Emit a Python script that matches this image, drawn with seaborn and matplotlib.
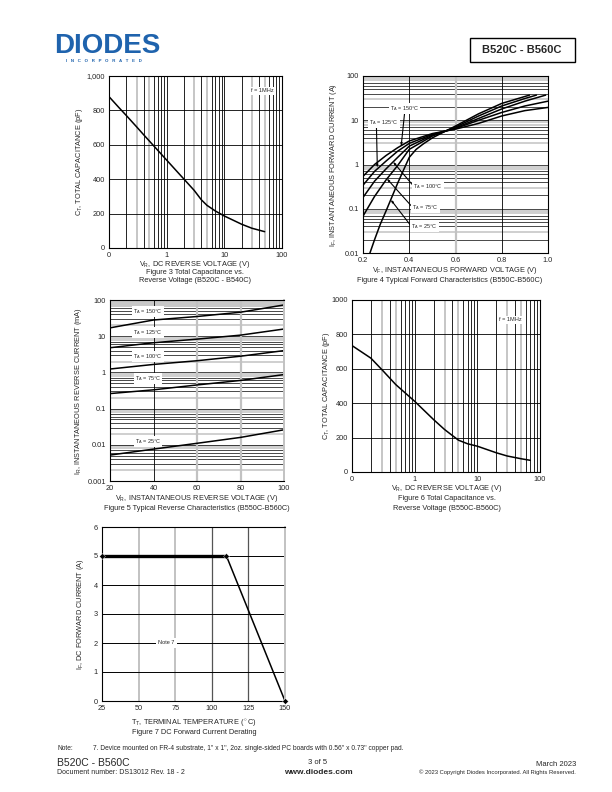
import matplotlib
matplotlib.use("Agg")
from matplotlib import pyplot as plt
from matplotlib.patches import Rectangle
from matplotlib.ticker import NullLocator
import seaborn as sns
import pandas as pd

sns.set_style("white")
plt.rcParams['font.family'] = ['Liberation Sans', 'DejaVu Sans']
plt.rcParams['mathtext.fontset'] = 'custom'
plt.rcParams['mathtext.rm'] = 'Liberation Sans'
plt.rcParams['mathtext.it'] = 'Liberation Sans:italic'
plt.rcParams['mathtext.bf'] = 'Liberation Sans:bold'

# Figure 3 - capacitance B520C-B540C
cap3_v = [0.1, 0.15, 0.2, 0.3, 0.4, 0.6, 1, 1.5, 2, 3, 4, 5, 7, 10, 15, 20, 30, 50]
cap3_c = [880, 815, 770, 705, 658, 593, 511, 446, 400, 335, 280, 248, 215, 186, 158, 138, 115, 95]

# Figure 4 - forward characteristics
fwd_v_150 = [0.20, 0.25, 0.30, 0.35, 0.40, 0.50, 0.60, 0.70, 0.80, 0.90, 1.00]
fwd_i_150 = [0.54, 1.0, 1.6, 2.4, 3.4, 5.0, 6.3, 8.5, 12.5, 16.5, 19.5]
fwd_v_125 = [0.20, 0.25, 0.30, 0.35, 0.40, 0.50, 0.60, 0.70, 0.80, 0.90, 1.00]
fwd_i_125 = [0.34, 0.7, 1.2, 2.0, 3.0, 4.8, 6.5, 10, 15, 21, 27]
fwd_v_100 = [0.20, 0.25, 0.30, 0.35, 0.40, 0.50, 0.60, 0.70, 0.80, 0.90, 0.99]
fwd_i_100 = [0.18, 0.42, 0.8, 1.45, 2.6, 4.6, 6.7, 11, 18, 27, 37]
fwd_v_75 = [0.20, 0.25, 0.30, 0.35, 0.40, 0.50, 0.60, 0.70, 0.80, 0.90, 0.95]
fwd_i_75 = [0.068, 0.19, 0.45, 0.95, 2.2, 4.4, 7.0, 12.5, 21, 31, 37]
fwd_v_25 = [0.23, 0.25, 0.275, 0.30, 0.32, 0.35, 0.38, 0.40, 0.43, 0.46, 0.50, 0.60, 0.70, 0.80, 0.92]
fwd_i_25 = [0.01, 0.02, 0.045, 0.09, 0.16, 0.38, 0.85, 1.45, 2.2, 2.9, 4.0, 7.4, 14, 24, 37]

# Figure 5 - reverse characteristics
rev_v = [20, 40, 60, 80, 100]
rev_i_150 = [17, 28, 35, 46, 73]
rev_i_125 = [4.8, 6.6, 8.3, 10.7, 15.8]
rev_i_100 = [1.24, 1.66, 2.1, 2.8, 4.0]
rev_i_75 = [0.26, 0.33, 0.45, 0.6, 0.87]
rev_i_25 = [0.0052, 0.0076, 0.011, 0.016, 0.026]

# Figure 6 - capacitance B550C-B560C
cap6_v = [0.1, 0.2, 0.3, 0.5, 1, 2, 3, 4, 5, 7, 10, 20, 30, 50, 70]
cap6_c = [735, 662, 595, 508, 411, 305, 247, 212, 185, 164, 150, 112, 93, 77, 68]

# Figure 7 - derating
der_t = [25, 110, 150]
der_i = [5, 5, 0]

W, H = 612, 792
fig = plt.figure(figsize=(6.12, 7.92), dpi=100)

FS = 5.3
GRAY = '#c2c2c2'


def box(l, t, r, b):
    return [l / W, 1 - b / H, (r - l) / W, (b - t) / H]


def txt(x, y, s, **kw):
    kw.setdefault('fontsize', FS)
    kw.setdefault('ha', 'center')
    kw.setdefault('va', 'center')
    fig.text(x / W, 1 - y / H, s, **kw)


def frame(ax):
    for sp in ax.spines.values():
        sp.set_color('black')
        sp.set_linewidth(0.8)
    ax.tick_params(length=0, labelsize=FS, pad=3)
    ax.xaxis.set_minor_locator(NullLocator())
    ax.yaxis.set_minor_locator(NullLocator())


def log_vgrid(ax, decades, grays):
    for d in decades:
        for m in range(1, 10):
            if d * m == decades[0]:
                continue
            g = m in grays
            ax.axvline(d * m, color=GRAY if g else 'black', lw=1.3 if g else 0.6, zorder=0)


def log_hgrid(ax, decades, grays):
    for d in decades:
        for m in range(1, 10):
            if d * m == decades[0]:
                continue
            g = m in grays
            ax.axhline(d * m, color=GRAY if g else 'black', lw=1.1 if g else 0.5, zorder=0)


# ---------------- Figure 3
ax3 = fig.add_axes(box(109, 76, 282, 248))
ax3.set_xscale('log')
log_vgrid(ax3, [0.1, 1, 10], (3, 5))
for v in [200, 400, 600, 800]:
    ax3.axhline(v, color='black', lw=0.6, zorder=0)
sns.lineplot(x=cap3_v, y=cap3_c, ax=ax3, color='black', lw=1.1)
ax3.set_xlim(0.1, 100)
ax3.set_ylim(0, 1000)
ax3.set_xticks([0.1, 1, 10, 100], ['0', '1', '10', '100'])
ax3.set_yticks([0, 200, 400, 600, 800, 1000], ['0', '200', '400', '600', '800', '1,000'])
frame(ax3)
ax3.text(46, 914, 'f = 1MHz', fontsize=4, ha='center', va='center',
         bbox=dict(fc='white', ec='none', pad=1))
txt(79, 162, 'C$_\\mathrm{T}$, TOTAL CAPACITANCE (pF)', rotation=90)
txt(195, 265, 'V$_\\mathrm{R}$, DC REVERSE VOLTAGE (V)')
txt(195, 273, 'Figure 3 Total Capacitance vs.')
txt(195, 281, 'Reverse Voltage (B520C - B540C)')

# ---------------- Figure 4
ax4 = fig.add_axes(box(363, 76, 548, 253))
ax4.set_yscale('log')
log_hgrid(ax4, [0.01, 0.1, 1, 10], (3, 8, 9))
ax4.axvline(0.4, color='black', lw=0.6, zorder=0)
ax4.axvline(0.6, color=GRAY, lw=1.6, zorder=0)
ax4.axvline(0.8, color='black', lw=0.6, zorder=0)
fwd = pd.concat([
    pd.DataFrame({'v': fwd_v_150, 'i': fwd_i_150, 't': 150}),
    pd.DataFrame({'v': fwd_v_125, 'i': fwd_i_125, 't': 125}),
    pd.DataFrame({'v': fwd_v_100, 'i': fwd_i_100, 't': 100}),
    pd.DataFrame({'v': fwd_v_75, 'i': fwd_i_75, 't': 75}),
    pd.DataFrame({'v': fwd_v_25, 'i': fwd_i_25, 't': 25}),
])
sns.lineplot(data=fwd, x='v', y='i', units='t', estimator=None, ax=ax4, color='black', lw=1.1)
ax4.set_xlim(0.2, 1.0)
ax4.set_ylim(0.01, 100)
ax4.set_xticks([0.2, 0.4, 0.6, 0.8, 1.0], ['0.2', '0.4', '0.6', '0.8', '1.0'])
ax4.set_yticks([0.01, 0.1, 1, 10, 100], ['0.01', '0.1', '1', '10', '100'])
ax4.set_xlabel('')
ax4.set_ylabel('')
frame(ax4)
notes4 = [
    ('T$_\\mathrm{A}$ = 150°C', (0.38, 18.7), (0.365, 2.6), (0.5, 0)),
    ('T$_\\mathrm{A}$ = 125°C', (0.29, 9.0), (0.262, 0.85), (0.25, 0)),
    ('T$_\\mathrm{A}$ = 100°C', (0.48, 0.32), (0.33, 1.15), (0, 0.6)),
    ('T$_\\mathrm{A}$ = 75°C', (0.47, 0.105), (0.303, 0.48), (0, 0.6)),
    ('T$_\\mathrm{A}$ = 25°C', (0.465, 0.039), (0.32, 0.16), (0, 0.6)),
]
for s, xyt, xy, rp in notes4:
    ax4.annotate(s, xy=xy, xytext=xyt, fontsize=4, ha='center', va='center',
                 bbox=dict(fc='white', ec='none', pad=0.8),
                 arrowprops=dict(arrowstyle='-|>,head_width=0.12,head_length=0.35',
                                 color='black', lw=0.8, shrinkA=0, shrinkB=0, relpos=rp))
txt(334, 165, 'I$_\\mathrm{F}$, INSTANTANEOUS FORWARD CURRENT (A)', rotation=90)
txt(455, 271, 'V$_\\mathrm{F}$, INSTANTANEOUS FORWARD VOLTAGE (V)')
txt(450, 281, 'Figure 4 Typical Forward Characteristics (B550C-B560C)')

# ---------------- Figure 5
ax5 = fig.add_axes(box(110, 300, 284, 481))
ax5.set_yscale('log')
log_hgrid(ax5, [0.001, 0.01, 0.1, 1, 10], (2, 8, 9))
ax5.axhspan(65, 100, color='#c8c8c8', lw=0, zorder=0)
ax5.axvline(40, color='black', lw=0.6, zorder=0)
ax5.axvline(60, color=GRAY, lw=1.6, zorder=0)
ax5.axvline(80, color=GRAY, lw=1.6, zorder=0)
for ys in [rev_i_150, rev_i_125, rev_i_100, rev_i_75, rev_i_25]:
    sns.lineplot(x=rev_v, y=ys, ax=ax5, color='black', lw=1.1)
ax5.set_xlim(20, 100)
ax5.set_ylim(0.001, 100)
ax5.set_xticks([20, 40, 60, 80, 100], ['20', '40', '60', '80', '100'])
ax5.set_yticks([0.001, 0.01, 0.1, 1, 10, 100], ['0.001', '0.01', '0.1', '1', '10', '100'])
frame(ax5)
ax5.spines['right'].set_color(GRAY)
ax5.spines['right'].set_linewidth(1.4)
for s, y in [('150', 48), ('125', 13), ('100', 2.7), ('75', 0.66), ('25', 0.0126)]:
    ax5.text(37.5, y, 'T$_\\mathrm{A}$ = ' + s + '°C', fontsize=4, ha='center', va='center',
             bbox=dict(fc='white', ec='none', pad=0.8))
txt(78, 391, 'I$_\\mathrm{R}$, INSTANTANEOUS REVERSE CURRENT (mA)', rotation=90)
txt(197, 498, 'V$_\\mathrm{R}$, INSTANTANEOUS REVERSE VOLTAGE (V)')
txt(197, 509, 'Figure 5 Typical Reverse Characteristics (B550C-B560C)')

# ---------------- Figure 6
ax6 = fig.add_axes(box(352, 300, 540, 472))
ax6.set_xscale('log')
log_vgrid(ax6, [0.1, 1, 10], (5, 3))
for v in [200, 400, 600, 800]:
    ax6.axhline(v, color='black', lw=0.6, zorder=0)
sns.lineplot(x=cap6_v, y=cap6_c, ax=ax6, color='black', lw=1.1)
ax6.set_xlim(0.1, 100)
ax6.set_ylim(0, 1000)
ax6.set_xticks([0.1, 1, 10, 100], ['0', '1', '10', '100'])
ax6.set_yticks([0, 200, 400, 600, 800, 1000], ['0', '200', '400', '600', '800', '1000'])
frame(ax6)
ax6.text(33, 884, 'f = 1MHz', fontsize=4, ha='center', va='center',
         bbox=dict(fc='white', ec='none', pad=1))
txt(326, 386, 'C$_\\mathrm{T}$, TOTAL CAPACITANCE (pF)', rotation=90)
txt(447, 489, 'V$_\\mathrm{R}$, DC REVERSE VOLTAGE (V)')
txt(447, 499, 'Figure 6 Total Capacitance vs.')
txt(447, 508, 'Reverse Voltage (B550C-B560C)')

# ---------------- Figure 7
ax7 = fig.add_axes(box(102, 527, 285, 701))
for t, c in [(50, GRAY), (75, GRAY), (100, '#555555'), (125, '#555555')]:
    ax7.axvline(t, color=c, lw=1.4 if c == GRAY else 0.9, zorder=0)
for v in [1, 2, 3, 4, 5]:
    ax7.axhline(v, color='black', lw=0.7, zorder=0)
sns.lineplot(x=der_t[:2], y=der_i[:2], ax=ax7, color='black', lw=2.4)
sns.lineplot(x=der_t[1:], y=der_i[1:], ax=ax7, color='black', lw=1.1)
sns.scatterplot(x=der_t, y=der_i, ax=ax7, color='black', s=9, marker='D', clip_on=False, zorder=5)
ax7.set_xlim(25, 150)
ax7.set_ylim(0, 6)
ax7.set_xticks([25, 50, 75, 100, 125, 150])
ax7.set_yticks([0, 1, 2, 3, 4, 5, 6])
frame(ax7)
ax7.spines['right'].set_color(GRAY)
ax7.spines['right'].set_linewidth(1.4)
ax7.text(69, 2, 'Note 7', fontsize=4, ha='center', va='center',
         bbox=dict(fc='white', ec='none', pad=1.5))
txt(81, 614, 'I$_\\mathrm{F}$, DC FORWARD CURRENT (A)', rotation=90)
txt(194, 723, 'T$_\\mathrm{T}$, TERMINAL TEMPERATURE ($^\\circ$C)')
txt(194, 733, 'Figure 7 DC Forward Current Derating')

# ---------------- header and footer
txt(107, 46, 'DIODES', fontsize=20, fontweight='heavy', color='#1f63ad')
txt(104, 61, 'I   N   C   O   R   P   O   R   A   T   E   D', fontsize=3.2, color='#1f63ad',
    fontweight='bold')
fig.patches.append(Rectangle((470 / W, 1 - 62 / H), 105 / W, 24 / H, transform=fig.transFigure,
                             fill=False, ec='black', lw=1.0))
txt(522, 50, 'B520C - B560C', fontsize=8, fontweight='bold')

txt(57, 748, 'Note:', fontsize=4.8, ha='left')
txt(93, 748, '7. Device mounted on FR-4 substrate, 1" x 1", 2oz. single-sided PC boards with 0.56" x 0.73" copper pad.',
    fontsize=4.8, ha='left')
txt(57, 763, 'B520C - B560C', fontsize=7.5, ha='left')
txt(57, 773, 'Document number: DS13012 Rev. 18 - 2', fontsize=5, ha='left')
txt(318, 763, '3 of 5', fontsize=5.5)
txt(318, 773, 'www.diodes.com', fontsize=6, fontweight='bold')
txt(576, 764, 'March 2023', fontsize=5.5, ha='right')
txt(576, 772, '© 2023 Copyright Diodes Incorporated. All Rights Reserved.', fontsize=4.2, ha='right')

fig.savefig('out.png', dpi=100)
